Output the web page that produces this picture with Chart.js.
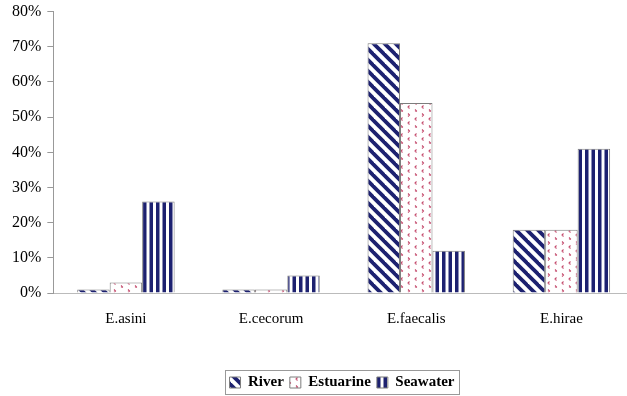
<!DOCTYPE html>
<html><head><meta charset="utf-8">
<script src="https://cdn.jsdelivr.net/npm/chart.js@4/dist/chart.umd.min.js"></script>
<style>html,body{margin:0;padding:0;background:#fff;overflow:hidden}#wrap{width:634px;height:396px}</style>
</head><body><div id="wrap"><canvas id="c" width="634" height="396"></canvas></div>
<script>
const categories = ['E.asini', 'E.cecorum', 'E.faecalis', 'E.hirae'];
const river = [1, 1, 71, 18];
const estuarine = [3, 1, 54, 18];
const seawater = [26, 5, 12, 41];
const seriesNames = ['River', 'Estuarine', 'Seawater'];

const NAVY = '#1d2170';
function makePattern(w, h, draw) {
  const c = document.createElement('canvas');
  c.width = w; c.height = h;
  const g = c.getContext('2d');
  g.fillStyle = '#fff'; g.fillRect(0, 0, w, h);
  draw(g, w, h);
  return g.createPattern(c, 'repeat');
}
const ctx0 = document.getElementById('c').getContext('2d');
const riverPat = makePattern(11, 11, (g, w, h) => {
  g.strokeStyle = NAVY; g.lineWidth = 3.8;
  for (let o = -w; o <= w; o += w) {
    g.beginPath(); g.moveTo(o - 2, -2); g.lineTo(o + w + 2, h + 2); g.stroke();
  }
});
const estPat = makePattern(14, 16, (g) => {
  g.strokeStyle = '#c44a6c'; g.lineWidth = 1.1;
  const lt = (x, y) => { g.beginPath(); g.moveTo(x + 1.5, y - 1.5); g.lineTo(x, y); g.lineTo(x + 1.5, y + 1.5); g.stroke(); };
  const gt = (x, y) => { g.beginPath(); g.moveTo(x, y - 1.5); g.lineTo(x + 1.5, y); g.lineTo(x, y + 1.5); g.stroke(); };
  gt(2, 3); lt(9, 7); lt(2, 11); gt(9, 15);
});
const seaPat = makePattern(13, 10, (g) => {
  g.fillStyle = NAVY;
  g.fillRect(0, 0, 3.5, 10);
  g.fillRect(6.5, 0, 3.5, 10);
});

const legendShift = {
  id: 'legendShift',
  afterLayout(chart) {
    const lg = chart.legend;
    if (!lg) return;
    lg.left += 22; lg.right += 22;
    lg.top += 4; lg.bottom += 4;
  }
};
const legendBorder = {
  id: 'legendBorder',
  afterDraw(chart) {
    const lg = chart.legend;
    if (!lg || !lg.legendHitBoxes || !lg.legendHitBoxes.length) return;
    let l = Infinity, r = -Infinity, t = Infinity, b = -Infinity;
    lg.legendHitBoxes.forEach(h => { l = Math.min(l, h.left); r = Math.max(r, h.left + h.width); t = Math.min(t, h.top); b = Math.max(b, h.top + h.height); });
    const c = chart.ctx;
    c.save(); c.strokeStyle = '#999'; c.lineWidth = 1;
    c.strokeRect(Math.round(l - 5) + 0.5, Math.round(t - 5) + 0.5, Math.round(r - l + 9), Math.round(b - t + 9));
    c.restore();
  }
};

new Chart(ctx0, {
  type: 'bar',
  data: {
    labels: categories,
    datasets: [
      { label: seriesNames[0], data: river, backgroundColor: riverPat, borderColor: '#7d7d7d', borderWidth: 1 },
      { label: seriesNames[1], data: estuarine, backgroundColor: estPat, borderColor: '#7d7d7d', borderWidth: 1 },
      { label: seriesNames[2], data: seawater, backgroundColor: seaPat, borderColor: '#7d7d7d', borderWidth: 1 }
    ]
  },
  options: {
    responsive: false,
    animation: false,
    layout: { padding: { top: 0, right: 0, left: 6, bottom: 0 } },
    datasets: { bar: { categoryPercentage: 0.671, barPercentage: 1.0 } },
    plugins: {
      legend: {
        position: 'bottom',
        labels: {
          font: { family: 'Liberation Serif', size: 15, weight: 'bold' },
          color: '#000', boxWidth: 11, boxHeight: 11, padding: 6
        }
      },
      tooltip: { enabled: false }
    },
    scales: {
      x: {
        grid: { display: false },
        border: { display: true, color: '#bbb' },
        ticks: { font: { family: 'Liberation Serif', size: 15 }, color: '#000', padding: 9 },
        afterFit(scale) { scale.height += 28; }
      },
      y: {
        min: 0, max: 80,
        grid: { drawOnChartArea: false, color: '#999', tickLength: 6 },
        border: { display: true, color: '#999' },
        ticks: { stepSize: 10, font: { family: 'Liberation Serif', size: 16, lineHeight: 0.7 }, color: '#000', padding: 6, callback: v => v + '%' }
      }
    }
  },
  plugins: [legendShift, legendBorder]
});
</script></body></html>
